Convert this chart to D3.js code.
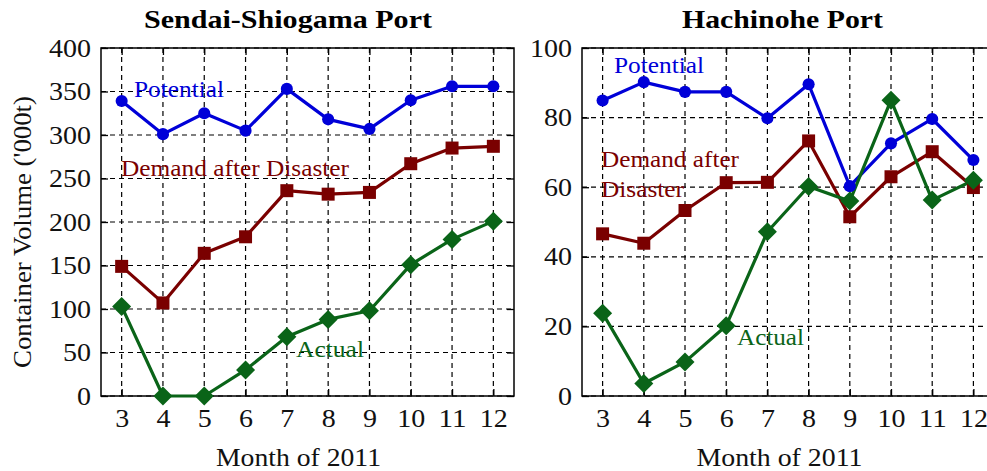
<!DOCTYPE html>
<html><head><meta charset="utf-8">
<script src="https://cdn.jsdelivr.net/npm/d3@7"></script>
<style>body{margin:0;background:#fff}svg{display:block}svg text{font-family:"Liberation Serif","Times New Roman","DejaVu Serif",serif !important}</style>
</head><body><svg id="c" width="987" height="471"></svg>
<script>
const months = [3,4,5,6,7,8,9,10,11,12];
const sendaiPotential = [339,301,325,305,353,318,307,340,356,356];
const sendaiDemand    = [149,107,164,183,236,232,234,267,285,287];
const sendaiActual    = [103,0,0,30,68,88,98,151,180,201];
const sendaiYTicks    = [0,50,100,150,200,250,300,350,400];
const hachiPotential  = [84.9,90.2,87.4,87.4,79.8,89.6,60.3,72.6,79.6,67.8];
const hachiDemand     = [46.6,43.9,53.3,61.3,61.4,73.3,51.5,63,70.2,59.9];
const hachiActual     = [23.8,3.6,9.8,20.2,47.2,60.2,56,85,56.3,62];
const hachiYTicks     = [0,20,40,60,80,100];
const titles = ["Sendai-Shiogama Port","Hachinohe Port"];
const xLabel = "Month of 2011";
const yLabel = "Container Volume ('000t)";
const seriesNames = ["Potential","Demand after Disaster","Actual"];

const colors = {Potential:"#0000d8", Demand:"#7a0000", Actual:"#0a6418"};
const svg = d3.select("#c");
const FF = "Liberation Serif";

function txt(x,y,s,size,len,fill,anchor,weight){
  const t = svg.append("text").attr("x",x).attr("y",y).attr("font-size",size)
    .attr("font-family",FF).attr("fill",fill).attr("text-anchor",anchor||"start").text(s);
  if(len){t.attr("textLength",len).attr("lengthAdjust","spacingAndGlyphs");}
  if(weight) t.attr("font-weight",weight);
  return t;
}

function panel(o){
  const g = svg.append("g");
  const x = d3.scaleLinear().domain([2.5,12.5]).range([o.left,o.right]);
  const y = d3.scaleLinear().domain([0,o.ymax]).range([396,48]);
  g.selectAll(".gx").data(months).enter().append("line")
    .attr("x1",d=>x(d)).attr("x2",d=>x(d)).attr("y1",48).attr("y2",396)
    .attr("stroke","#000").attr("stroke-width",1.2).attr("stroke-dasharray","5,4");
  g.selectAll(".gy").data(o.yticks).enter().append("line")
    .attr("x1",o.left).attr("x2",o.right).attr("y1",d=>y(d)).attr("y2",d=>y(d))
    .attr("stroke","#000").attr("stroke-width",1.2).attr("stroke-dasharray","5,4");
  const ax = [
    [d3.axisBottom(x).tickValues(months).tickSize(-7).tickPadding(13),`translate(0,396)`,true],
    [d3.axisTop(x).tickValues(months).tickSize(-7).tickFormat(""),`translate(0,48)`,false],
    [d3.axisLeft(y).tickValues(o.yticks).tickSize(-7).tickPadding(10),`translate(${o.left},0)`,true],
    [d3.axisRight(y).tickValues(o.yticks).tickSize(-7).tickFormat(""),`translate(${o.right},0)`,false]
  ];
  ax.forEach(([a,t,lab])=>{
    const s = g.append("g").attr("transform",t).call(a).attr("font-family",FF);
    s.select(".domain").remove();
    s.selectAll("line").attr("stroke","#000").attr("stroke-width",1.3);
    if(lab){
      s.selectAll("text").attr("font-size",25).attr("fill","#111").attr("font-family",FF)
        .each(function(){const n=this.textContent.length; d3.select(this).attr("textLength",n*14).attr("lengthAdjust","spacingAndGlyphs");});
    }
  });
  g.append("rect").attr("x",o.left).attr("y",48).attr("width",o.right-o.left).attr("height",348)
    .attr("fill","none").attr("stroke","#000").attr("stroke-width",1.5);
  const line = d3.line().x((d,i)=>x(months[i])).y(d=>y(d));
  const ser = [
    {v:o.pot,c:colors.Potential,m:"circle"},
    {v:o.dem,c:colors.Demand,m:"square"},
    {v:o.act,c:colors.Actual,m:"diamond"}
  ];
  ser.forEach(s=>{
    g.append("path").datum(s.v).attr("d",line).attr("fill","none")
      .attr("stroke",s.c).attr("stroke-width",3.2).attr("stroke-linejoin","round");
  });
  ser.forEach(s=>{
    const sym = s.m==="circle"? d3.symbol(d3.symbolCircle,115)() :
                s.m==="square"? d3.symbol(d3.symbolSquare,169)() :
                "M0,-9.5L9.5,0L0,9.5L-9.5,0Z";
    g.selectAll(null).data(s.v).enter().append("path").attr("d",sym)
      .attr("transform",(d,i)=>`translate(${x(months[i])},${y(d)})`).attr("fill",s.c);
  });
  txt(o.titleX,28,o.title,25,o.titleLen,"#000","middle","bold");
  txt(o.xlabX,466,xLabel,25,o.xlabLen,"#111","middle");
  o.labels.forEach(l=>txt(l.x,l.y,l.t,23,l.len,l.c));
}

panel({left:101,right:514,ymax:400,yticks:sendaiYTicks,pot:sendaiPotential,dem:sendaiDemand,act:sendaiActual,
  title:titles[0],titleX:288,titleLen:288,xlabX:298.5,xlabLen:165,
  labels:[{t:seriesNames[0],x:134,y:97,len:90,c:colors.Potential},
          {t:seriesNames[1],x:121,y:176,len:228,c:colors.Demand},
          {t:seriesNames[2],x:296,y:357,len:68,c:colors.Actual}]});
panel({left:582,right:994,ymax:100,yticks:hachiYTicks,pot:hachiPotential,dem:hachiDemand,act:hachiActual,
  title:titles[1],titleX:782.5,titleLen:201,xlabX:779.5,xlabLen:166,
  labels:[{t:seriesNames[0],x:614,y:73,len:90,c:colors.Potential},
          {t:"Demand after",x:601,y:167,len:138,c:colors.Demand},
          {t:"Disaster",x:601,y:197,len:83,c:colors.Demand},
          {t:seriesNames[2],x:737,y:345,len:67,c:colors.Actual}]});

svg.append("text").attr("transform","translate(31,232) rotate(-90)").attr("text-anchor","middle")
  .attr("font-family",FF).attr("font-size",25).attr("fill","#111")
  .attr("textLength",272).attr("lengthAdjust","spacingAndGlyphs").text(yLabel);
</script></body></html>
